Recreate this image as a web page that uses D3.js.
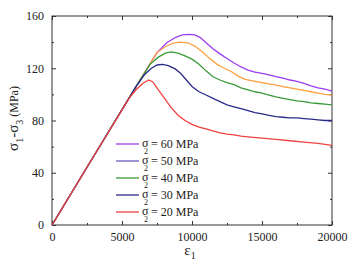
<!DOCTYPE html>
<html>
<head>
<meta charset="utf-8">
<script src="https://cdn.jsdelivr.net/npm/d3@7"></script>
<style>
  body { margin: 0; background: #fff; }
  .axis path { display: none; }
  .axis line { stroke: #333; }
</style>
</head>
<body>
<div id="chart"></div>
<script>
// Data: strain eps1 (x) and deviatoric stress sigma1-sigma3 in MPa (y)
const series = ["60", "50", "40", "30", "20"];
const curveColors = ["#9b3cf0", "#ffa040", "#3a9a3a", "#2b2b8c", "#f04040"];
const legendColors = ["#9b3cf0", "#6a5cc0", "#3a9a3a", "#2b2b8c", "#f04040"];

const eps60 = [0, 3000, 6000, 7500, 8200, 8800, 9300, 9800, 10200, 10600, 11000, 11500, 12000, 12500, 13000, 13500, 14000, 14500, 15000, 15500, 16000, 16500, 17000, 17500, 18000, 18500, 19000, 19500, 20000];
const sig60 = [0, 53, 106, 132, 139.5, 143.5, 145.5, 146, 145.5, 143.5, 139.5, 135, 131, 127.5, 124, 121, 118.5, 117, 116, 115, 113.5, 112.5, 111, 110, 108.5, 106.5, 105, 104, 102.5];

const eps50 = [0, 3000, 6000, 7500, 8100, 8600, 9100, 9700, 10200, 10800, 11300, 11800, 12300, 12800, 13300, 13800, 14500, 15000, 15500, 16000, 16500, 17000, 17500, 18000, 18500, 19000, 19500, 20000];
const sig50 = [0, 53, 106, 132, 136.5, 139, 140, 139.5, 137, 132, 127, 123, 120, 117.5, 114, 111.5, 110, 109, 108, 107, 106, 105, 104, 103, 102, 101, 100, 99.5];

const eps40 = [0, 3000, 6000, 7000, 7600, 8100, 8500, 9000, 9500, 10000, 10500, 11000, 11500, 12000, 12500, 13000, 13500, 14000, 14500, 15000, 15500, 16000, 16500, 17000, 17500, 18000, 18500, 19000, 19500, 20000];
const sig40 = [0, 53, 106, 123, 128.5, 131.5, 132.5, 131.5, 129.5, 127, 123, 118, 113.5, 111, 109, 107.5, 105, 103.5, 102, 101, 99.5, 98, 97, 96, 95, 94.5, 93.5, 93, 92.5, 92];

const eps30 = [0, 3000, 6000, 6600, 7100, 7500, 7900, 8300, 8800, 9200, 9600, 10000, 10500, 11000, 11500, 12000, 12500, 13000, 13500, 14000, 14500, 15000, 15500, 16000, 16500, 17000, 17500, 18000, 18500, 19000, 19500, 20000];
const sig30 = [0, 53, 106, 115, 120, 122.5, 123, 122, 119.5, 116, 111, 106, 102, 99.5, 97, 94.5, 92, 90.5, 89, 87.5, 86, 85, 84, 83, 82.5, 82, 82, 81.5, 81, 80.5, 80, 80];

const eps20 = [0, 3000, 5500, 6000, 6500, 6900, 7200, 7600, 8000, 8500, 9000, 9500, 10000, 10500, 11000, 11500, 12000, 12500, 13000, 13500, 14000, 15000, 16000, 17000, 18000, 19000, 20000];
const sig20 = [0, 53, 97, 103.5, 108.5, 111, 109.5, 103.5, 97.5, 90, 84, 80, 77, 75, 73.5, 72, 70.5, 69.5, 69, 68, 67.5, 66.5, 65.5, 64.5, 63.5, 62.5, 61];

const xTicks = [0, 5000, 10000, 15000, 20000];
const xMinor = [2500, 7500, 12500, 17500];
const yTicks = [0, 40, 80, 120, 160];
const yMinor = [20, 60, 100, 140];

const curves = [
  { name: "60", eps: eps60, sig: sig60 },
  { name: "50", eps: eps50, sig: sig50 },
  { name: "40", eps: eps40, sig: sig40 },
  { name: "30", eps: eps30, sig: sig30 },
  { name: "20", eps: eps20, sig: sig20 }
];

const FONT = "'Liberation Serif', 'Times New Roman', serif";
const MARGIN = { LEFT: 52, RIGHT: 17, TOP: 16, BOTTOM: 37 };
const WIDTH = 349 - MARGIN.LEFT - MARGIN.RIGHT;
const HEIGHT = 262 - MARGIN.TOP - MARGIN.BOTTOM;

const svg = d3.select("#chart").append("svg")
  .attr("width", 349)
  .attr("height", 262)
  .style("font-family", FONT);

const g = svg.append("g")
  .attr("transform", `translate(${MARGIN.LEFT}, ${MARGIN.TOP})`);

// Scales
const x = d3.scaleLinear().domain([0, 20000]).range([0, WIDTH]);
const y = d3.scaleLinear().domain([0, 160]).range([HEIGHT, 0]);

// Axes, ticks pointing inward on all four sides
g.append("g").attr("class", "axis")
  .attr("transform", `translate(0, ${HEIGHT})`)
  .call(d3.axisBottom(x).tickValues(xTicks).tickSize(-4).tickPadding(7).tickFormat(d3.format("d")))
  .selectAll("text").style("font-family", FONT).attr("font-size", "12px").attr("fill", "#222");
g.append("g").attr("class", "axis")
  .attr("transform", `translate(0, ${HEIGHT})`)
  .call(d3.axisBottom(x).tickValues(xMinor).tickSize(-2).tickFormat(""));
g.append("g").attr("class", "axis")
  .call(d3.axisTop(x).tickValues(xTicks).tickSize(-4).tickFormat(""));
g.append("g").attr("class", "axis")
  .call(d3.axisTop(x).tickValues(xMinor).tickSize(-2).tickFormat(""));

g.append("g").attr("class", "axis")
  .call(d3.axisLeft(y).tickValues(yTicks).tickSize(-4).tickPadding(8))
  .selectAll("text").style("font-family", FONT).attr("font-size", "12px").attr("fill", "#222");
g.append("g").attr("class", "axis")
  .call(d3.axisLeft(y).tickValues(yMinor).tickSize(-2).tickFormat(""));
g.append("g").attr("class", "axis")
  .attr("transform", `translate(${WIDTH}, 0)`)
  .call(d3.axisRight(y).tickValues(yTicks).tickSize(-4).tickFormat(""));
g.append("g").attr("class", "axis")
  .attr("transform", `translate(${WIDTH}, 0)`)
  .call(d3.axisRight(y).tickValues(yMinor).tickSize(-2).tickFormat(""));

// Frame
g.append("rect")
  .attr("width", WIDTH)
  .attr("height", HEIGHT)
  .attr("fill", "none")
  .attr("stroke", "#333")
  .attr("stroke-width", 1);

// Curves
const line = d3.line()
  .x(d => x(d[0]))
  .y(d => y(d[1]));

g.selectAll(".curve")
  .data(curves)
  .enter().append("path")
  .attr("class", "curve")
  .attr("fill", "none")
  .attr("stroke", (d, i) => curveColors[i])
  .attr("stroke-width", 1.3)
  .attr("d", d => line(d.eps.map((e, i) => [e, d.sig[i]])));

// Legend
const legend = g.selectAll(".legend")
  .data(series)
  .enter().append("g")
  .attr("class", "legend")
  .attr("transform", (d, i) => `translate(64, ${128 + i * 17})`);

legend.append("line")
  .attr("x1", 0).attr("x2", 23)
  .attr("stroke", (d, i) => legendColors[i])
  .attr("stroke-width", 1.3);

const lt = legend.append("text")
  .attr("x", 26).attr("y", 3)
  .attr("fill", "#222")
  .attr("font-size", "12px");
lt.append("tspan").text("\u03c3");
lt.append("tspan").attr("x", 28).attr("dy", 7).attr("font-size", "8px").text("2");
lt.append("tspan").attr("x", 35).attr("dy", -6).text(d => `= ${d} MPa`);

// Axis labels
const xl = svg.append("text")
  .attr("x", MARGIN.LEFT + WIDTH / 2 - 2)
  .attr("y", 255)
  .attr("text-anchor", "middle")
  .attr("fill", "#222")
  .attr("font-size", "15px");
xl.append("tspan").text("\u03b5");
xl.append("tspan").attr("font-size", "10px").attr("dy", 4).text("1");

const yl = svg.append("text")
  .attr("transform", `translate(18, ${MARGIN.TOP + HEIGHT / 2 - 2}) rotate(-90)`)
  .attr("text-anchor", "middle")
  .attr("fill", "#222")
  .attr("font-size", "15px");
yl.append("tspan").text("\u03c3");
yl.append("tspan").attr("font-size", "10px").attr("dy", 5).text("1");
yl.append("tspan").attr("dy", -5).text("-\u03c3");
yl.append("tspan").attr("font-size", "10px").attr("dy", 5).text("3");
yl.append("tspan").attr("dy", -5).attr("font-size", "12px").text(" (MPa)");
</script>
</body>
</html>
